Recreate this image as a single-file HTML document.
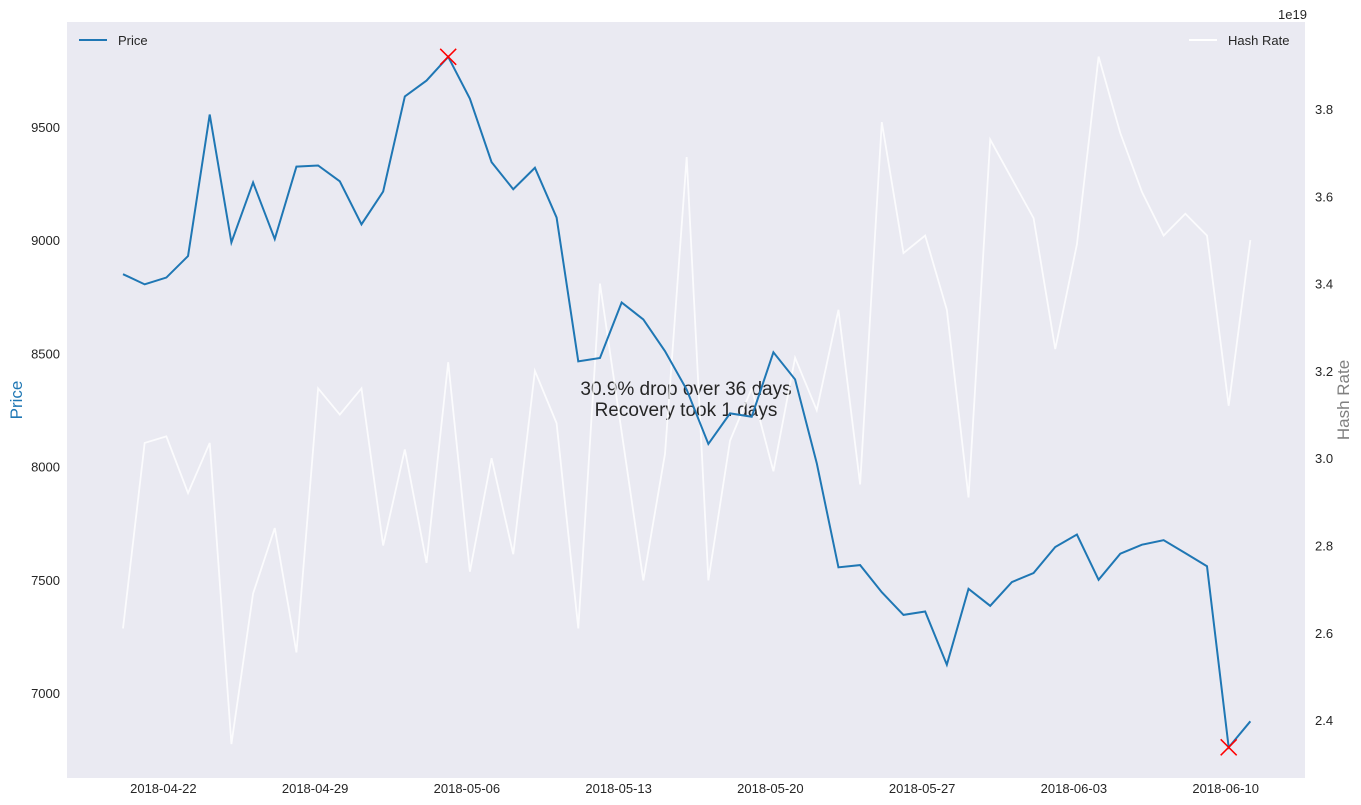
<!DOCTYPE html>
<html><head><meta charset="utf-8">
<style>
html,body{margin:0;padding:0;background:#fff;}
svg{display:block;font-family:"Liberation Sans",sans-serif;}
</style></head>
<body>
<svg id="chart" width="1361" height="805" viewBox="0 0 1361 805" xmlns="http://www.w3.org/2000/svg">
<rect x="67" y="22" width="1238" height="756" fill="#eaeaf2"/>
<text x="686" y="395" text-anchor="middle" font-size="19" fill="#262626">30.9% drop over 36 days</text>
<text x="686" y="416" text-anchor="middle" font-size="19" fill="#262626">Recovery took 1 days</text>
<g id="marks"></g>
<g id="axes" font-size="13" fill="#262626"></g>
<text x="1278" y="19" font-size="13" fill="#262626">1e19</text>
<text transform="translate(22,400) rotate(-90)" text-anchor="middle" font-size="17" fill="#1f77b4">Price</text>
<text transform="translate(1349,400) rotate(-90)" text-anchor="middle" font-size="17" fill="#808080">Hash Rate</text>
<g><line x1="79" y1="40" x2="107" y2="40" stroke="#1f77b4" stroke-width="2"/><text x="118" y="45" font-size="13" fill="#262626">Price</text></g>
<g><line x1="1189" y1="40" x2="1217" y2="40" stroke="#ffffff" stroke-width="2"/><text x="1228" y="45" font-size="13" fill="#262626">Hash Rate</text></g>
</svg>
<script>
const startDate = "2018-04-20";
const price = [8850,8805,8835,8930,9555,8990,9255,9005,9325,9330,9260,9070,9215,9635,9705,9810,9625,9345,9225,9320,9100,8465,8480,8725,8650,8510,8340,8100,8235,8220,8505,8385,8015,7555,7565,7445,7345,7360,7125,7460,7385,7490,7530,7645,7700,7500,7615,7655,7675,7618,7560,6760,6875];
const hashRate = [2.61,3.035,3.05,2.92,3.035,2.345,2.69,2.84,2.555,3.16,3.10,3.16,2.80,3.02,2.76,3.22,2.74,3.00,2.78,3.20,3.08,2.61,3.40,3.06,2.72,3.01,3.69,2.72,3.04,3.16,2.97,3.23,3.11,3.34,2.94,3.77,3.47,3.51,3.34,2.91,3.73,3.64,3.55,3.25,3.49,3.92,3.745,3.61,3.51,3.56,3.51,3.12,3.50];
const priceTicks = [7000,7500,8000,8500,9000,9500];
const hashTicks = [2.4,2.6,2.8,3.0,3.2,3.4,3.6,3.8];
const dateTicks = ["2018-04-22","2018-04-29","2018-05-06","2018-05-13","2018-05-20","2018-05-27","2018-06-03","2018-06-10"];

const NS="http://www.w3.org/2000/svg";
const day=86400000, t0=Date.parse(startDate);
const xDay = d => 123 + d*21.68;
const xDate = s => xDay((Date.parse(s)-t0)/day);
const yP = v => 127 + (9500-v)*0.2264;
const yH = v => 109 + (3.8-v)*436.5;
const marks=document.getElementById('marks'), axes=document.getElementById('axes');
function mk(tag,attrs,parent){const e=document.createElementNS(NS,tag);for(const k in attrs)e.setAttribute(k,attrs[k]);parent.appendChild(e);return e;}

const hl=mk('polyline',{points:hashRate.map((v,i)=>xDay(i)+','+yH(v)).join(' '),fill:'none',stroke:'#ffffff','stroke-width':1.8,'stroke-opacity':0.8},marks);


const pl=mk('polyline',{points:price.map((v,i)=>xDay(i)+','+yP(v)).join(' '),fill:'none',stroke:'#1f77b4','stroke-width':2},marks);



let pi=0; price.forEach((v,i)=>{if(v>price[pi])pi=i;});
let ti=pi; for(let i=pi;i<price.length;i++) if(price[i]<price[ti]) ti=i;
[[pi,'peak-marker'],[ti,'trough-marker']].forEach(([i,n])=>{
  const cx=xDay(i), cy=yP(price[i]);
  const g=mk('path',{d:`M${cx-8},${cy-8}L${cx+8},${cy+8}M${cx-8},${cy+8}L${cx+8},${cy-8}`,stroke:'#ff0000','stroke-width':1.5},marks);
  
  
});

priceTicks.forEach(v=>{
  const t=mk('text',{x:60,y:yP(v)+5,'text-anchor':'end'},axes); t.textContent=v;
  
  
});
hashTicks.forEach(v=>{
  const t=mk('text',{x:1315,y:yH(v)+5},axes); t.textContent=v.toFixed(1);
  
  
});
dateTicks.forEach(s=>{
  const t=mk('text',{x:xDate(s)-3,y:793,'text-anchor':'middle'},axes); t.textContent=s;
  
  
});
</script>
</body></html>
